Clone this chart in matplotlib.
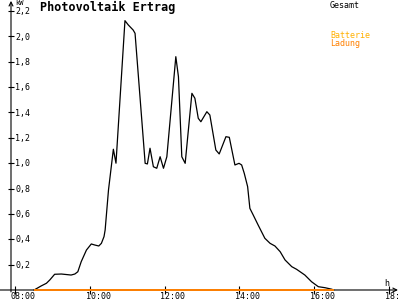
import numpy as np
import matplotlib
matplotlib.use('Agg')
import matplotlib.pyplot as plt

# Gesamt (kW) over time of day (hours)
t = [8.51, 8.70, 8.84, 8.93, 9.06, 9.24, 9.50, 9.60, 9.68, 9.77,
     9.91, 10.04, 10.13, 10.24, 10.31, 10.38, 10.41,
     10.50, 10.63, 10.70, 10.94, 11.03, 11.16, 11.21, 11.48, 11.54, 11.61,
     11.70, 11.79, 11.88, 11.97, 12.06, 12.30, 12.37, 12.46, 12.55, 12.73,
     12.81, 12.90, 12.97, 13.13, 13.21, 13.37, 13.46, 13.64, 13.73, 13.88,
     13.99, 14.06, 14.13, 14.22, 14.28, 14.37, 14.50, 14.68, 14.82, 14.95,
     15.09, 15.22, 15.40, 15.53, 15.75, 15.93, 16.11, 16.29, 16.47, 16.52]
p = [0.0, 0.032, 0.053, 0.079, 0.124, 0.126, 0.118, 0.126, 0.144, 0.223,
     0.315, 0.363, 0.355, 0.347, 0.368, 0.421, 0.473,
     0.789, 1.11, 1.0, 2.124, 2.09, 2.05, 2.024, 0.999, 0.994, 1.118,
     0.972, 0.96, 1.051, 0.96, 1.051, 1.84, 1.682, 1.051, 0.999, 1.551,
     1.512, 1.354, 1.327, 1.406, 1.38, 1.104, 1.073, 1.209, 1.204, 0.986,
     0.999, 0.986, 0.92, 0.815, 0.644, 0.591, 0.513, 0.408, 0.368, 0.347,
     0.302, 0.237, 0.184, 0.163, 0.118, 0.065, 0.026, 0.018, 0.006, 0.0]

# Batterie Ladung
t_bat = [8.51, 16.52]
p_bat = [0.0, 0.0]

yticks = [0.2, 0.4, 0.6, 0.8, 1.0, 1.2, 1.4, 1.6, 1.8, 2.0, 2.2]
xticks = [8, 10, 12, 14, 16, 18]
xlabels = ['08:00', '10:00', '12:00', '14:00', '16:00', '18:']

mono = 'DejaVu Sans Mono'
X0 = 7.893  # position of the y axis

fig = plt.figure(figsize=(4, 3), dpi=100)
ax = fig.add_axes([0, 0, 1, 1])
ax.axis('off')
ax.set_xlim(7.599, 18.294)
ax.set_ylim(-0.0789, 2.287)

# axes with arrows
ax.annotate('', xy=(18.24, 0), xytext=(7.599, 0),
            arrowprops=dict(arrowstyle='->', lw=0.8, color='k', shrinkA=0, shrinkB=0,
                            mutation_scale=7))
ax.annotate('', xy=(X0, 2.28), xytext=(X0, -0.015),
            arrowprops=dict(arrowstyle='->', lw=0.8, color='k', shrinkA=0, shrinkB=0,
                            mutation_scale=7))

ax.plot([X0] * len(yticks), yticks, ls='none', marker='_', ms=5, mew=0.8, color='k')
ax.plot(xticks, [0] * len(xticks), ls='none', marker='|', ms=6, mew=0.8, color='k')

for v in yticks:
    ax.annotate(('%.1f' % v).replace('.', ','), xy=(X0, v), xytext=(3, -0.5),
                textcoords='offset points', ha='left', va='center',
                fontsize=6, family=mono)
for h, lab in zip(xticks, xlabels):
    ax.annotate(lab, xy=(h, 0), xytext=(-3, -1.5), textcoords='offset points',
                ha='left', va='top', fontsize=6, family=mono)

ax.plot(t, p, color='k', lw=0.9)
ax.plot(t_bat, p_bat, color='#ff8000', lw=1.4, zorder=5, solid_capstyle='butt')

fig.text(15 / 400, 1.0, 'kW', fontsize=5, family=mono, va='top')
fig.text(387 / 400, 1 - 284 / 300, 'h', fontsize=6, family=mono, ha='center', va='center')
fig.text(40 / 400, 1 - 1 / 300, 'Photovoltaik Ertrag', fontsize=8.5, family=mono,
         fontweight='bold', va='top')
fig.text(330 / 400, 1 - 1 / 300, 'Gesamt', fontsize=6, family=mono, va='top')
fig.text(330 / 400, 1 - 31 / 300, 'Batterie', fontsize=6, family=mono, va='top', color='#ffb000')
fig.text(330 / 400, 1 - 39 / 300, 'Ladung', fontsize=6, family=mono, va='top', color='#ff8000')

fig.savefig('out.png', dpi=100)
